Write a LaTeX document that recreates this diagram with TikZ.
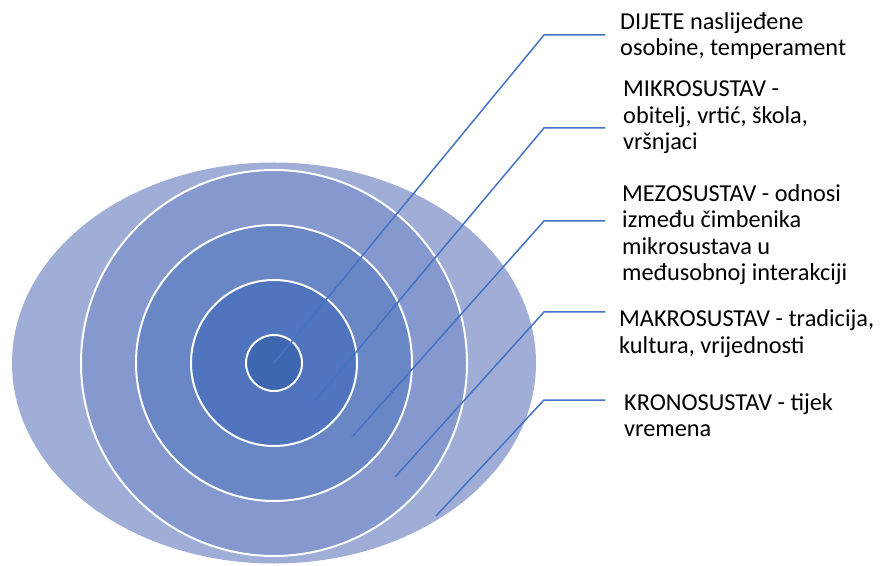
\documentclass[tikz,border=0pt]{standalone}
\usepackage{fontspec}
\setmainfont{Carlito}
\definecolor{ring0}{HTML}{A0AED7}
\definecolor{ring1}{HTML}{8599CF}
\definecolor{ring2}{HTML}{6A87C5}
\definecolor{ring3}{HTML}{5075BE}
\definecolor{ring4}{HTML}{3E67B0}
\definecolor{conn}{HTML}{4472C4}
\begin{document}
\begin{tikzpicture}[x=1pt,y=1pt,
  ring/.style={draw=white,line width=2pt},
  conline/.style={draw=conn,line width=1.5pt},
  lbl/.style={anchor=base west,inner sep=0pt,align=left,font=\fontsize{24.3}{26.5}\selectfont,text=black}]
\useasboundingbox (0,0) rectangle (882,565);
\coordinate (c) at (274,202);
\fill[ring0] (c) ellipse [x radius=262, y radius=200.5];
\node[ring,fill=ring1,circle,minimum size=386pt,inner sep=0pt] (r1) at (c) {};
\node[ring,fill=ring2,circle,minimum size=276pt,inner sep=0pt] (r2) at (c) {};
\node[ring,fill=ring3,circle,minimum size=166pt,inner sep=0pt] (r3) at (c) {};
\node[ring,fill=ring4,circle,minimum size=56pt,inner sep=0pt] (r4) at (c) {};
% labels (base anchor = baseline of the last line)
\node[lbl] (t1) at (620,509.2) {DIJETE naslijeđene\\osobine, temperament};
\node[lbl] (t2) at (623,415) {MIKROSUSTAV -\\obitelj, vrtić, škola,\\vršnjaci};
\node[lbl] (t3) at (622,284) {MEZOSUSTAV - odnosi\\između čimbenika\\mikrosustava u\\međusobnoj interakciji};
\node[lbl] (t4) at (619,211.5) {MAKROSUSTAV - tradicija,\\kultura, vrijednosti};
\node[lbl] (t5) at (624,128.5) {KRONOSUSTAV - tijek\\vremena};
% connector points
\coordinate (p1) at (274,202); \coordinate (e1) at (544,530); \coordinate (s1) at (605,530);
\coordinate (p2) at (315,164); \coordinate (e2) at (544,437); \coordinate (s2) at (605,437);
\coordinate (p3) at (352,128); \coordinate (e3) at (544,344); \coordinate (s3) at (605,344);
\coordinate (p4) at (395,88);  \coordinate (e4) at (544,253); \coordinate (s4) at (605,253);
\coordinate (p5) at (436,49);  \coordinate (e5) at (544,165); \coordinate (s5) at (605,165);
\draw[conline] (p1) -- (e1) -- (s1);
\draw[conline] (p2) -- (e2) -- (s2);
\draw[conline] (p3) -- (e3) -- (s3);
\draw[conline] (p4) -- (e4) -- (s4);
\draw[conline] (p5) -- (e5) -- (s5);
\end{tikzpicture}
\end{document}
